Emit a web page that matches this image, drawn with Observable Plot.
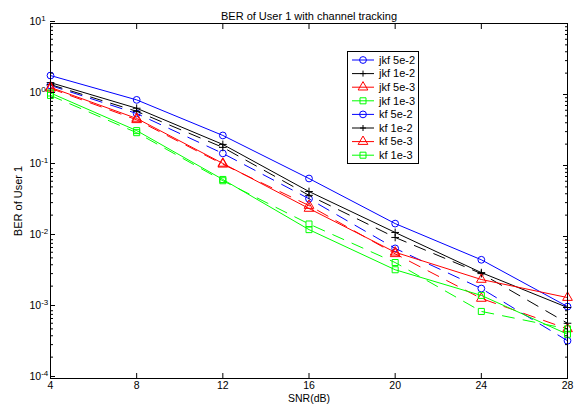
<!DOCTYPE html>
<html><head><meta charset="utf-8">
<script src="https://cdn.jsdelivr.net/npm/d3@7"></script>
<script src="https://cdn.jsdelivr.net/npm/@observablehq/plot@0.6"></script>
<style>body{margin:0;background:#fff;} svg{display:block}</style>
</head><body><div id="chart"></div>
<script>
const titleText = "BER of User 1 with channel tracking";
const xLabel = "SNR(dB)";
const yLabel = "BER of User 1";
const snr = [4, 8, 12, 16, 20, 24, 28];
const xTicks = [4, 8, 12, 16, 20, 24, 28];
const yTicks = [1e-4, 1e-3, 1e-2, 1e-1, 1, 10];
const yTickLabels = ["10^-4", "10^-3", "10^-2", "10^-1", "10^0", "10^1"];

const jkf5e2 = [1.34, 0.54, 0.148, 0.034, 0.0068, 0.00185, 0.00034];
const jkf1e2 = [1.38, 0.58, 0.18, 0.038, 0.0097, 0.0030, 0.0006];
const jkf5e3 = [1.22, 0.44, 0.104, 0.0273, 0.0057, 0.00134, 0.0005];
const jkf1e3 = [0.97, 0.29, 0.061, 0.015, 0.0043, 0.00088, 0.0005];
const kf5e2 = [1.85, 0.84, 0.265, 0.0656, 0.0152, 0.0047, 0.00103];
const kf1e2 = [1.47, 0.64, 0.198, 0.043, 0.0114, 0.0031, 0.001];
const kf5e3 = [1.26, 0.46, 0.107, 0.0248, 0.006, 0.00248, 0.00138];
const kf1e3 = [1.05, 0.31, 0.0636, 0.0125, 0.0034, 0.00148, 0.00042];

const seriesNames = ["jkf 5e-2", "jkf 1e-2", "jkf 5e-3", "jkf 1e-3", "kf 5e-2", "kf 1e-2", "kf 5e-3", "kf 1e-3"];
const seriesValues = [jkf5e2, jkf1e2, jkf5e3, jkf1e3, kf5e2, kf1e2, kf5e3, kf1e3];
const seriesColors = ["#0000ff", "#000000", "#ff0000", "#00ff00", "#0000ff", "#000000", "#ff0000", "#00ff00"];
const seriesSymbols = ["circle", "plus", "triangle", "square", "circle", "plus", "triangle", "square"];
const seriesDashed = [true, true, true, true, false, false, false, false];

const minorTicks = [];
for (let e = -4; e < 1; e++) for (let m = 2; m <= 9; m++) minorTicks.push(m * Math.pow(10, e));

const symR = s => s === "plus" ? 2.6 : s === "triangle" ? 3.6 : 3.4;

const marks = [];
seriesNames.forEach((name, k) => {
  const rows = snr.map((x, i) => ({x, y: seriesValues[k][i]}));
  marks.push(Plot.line(rows, {x: "x", y: "y", stroke: seriesColors[k], strokeWidth: 1,
    strokeDasharray: seriesDashed[k] ? "12,9" : null}));
  marks.push(Plot.dot(rows, {x: "x", y: "y", stroke: seriesColors[k], fill: "none", strokeWidth: 1,
    symbol: seriesSymbols[k], r: symR(seriesSymbols[k])}));
});

const font = "'Liberation Sans', Arial, sans-serif";
const chart = Plot.plot({
  width: 581, height: 410,
  marginLeft: 50, marginRight: 14, marginTop: 23, marginBottom: 32,
  style: {fontFamily: font, fontSize: "11px", background: "white", color: "black"},
  x: {domain: [4, 28]},
  y: {type: "log", domain: [1e-4, 10]},
  marks: [
    ...marks,
    Plot.axisX({anchor: "bottom", ticks: xTicks, tickSize: -5, tickPadding: 8, tickFormat: d => String(d), label: null, fontSize: 10.5}),
    Plot.axisX({anchor: "top", ticks: xTicks, tickSize: -5, tickFormat: () => "", label: null}),
    Plot.axisY({anchor: "left", ticks: yTicks, tickSize: -5, tickPadding: 26, textAnchor: "start",
      tickFormat: (d) => yTickLabels[yTicks.indexOf(d)], label: null, fontSize: 10.5, dy: -2}),
    Plot.axisY({anchor: "right", ticks: yTicks, tickSize: -5, tickFormat: () => "", label: null}),
    Plot.axisY({anchor: "left", ticks: minorTicks, tickSize: -3, tickFormat: () => "", label: null}),
    Plot.axisY({anchor: "right", ticks: minorTicks, tickSize: -3, tickFormat: () => "", label: null}),
    Plot.frame({stroke: "black", strokeWidth: 1}),
    Plot.text([titleText], {frameAnchor: "top", dy: -11, fontSize: 11, fill: "black"}),
    Plot.text([xLabel], {frameAnchor: "bottom", dy: 23, fontSize: 10.5, fill: "black"}),
    Plot.text([yLabel], {frameAnchor: "left", dx: -32, rotate: -90, textAnchor: "middle", fontSize: 11, fill: "black"})
  ]
});
document.getElementById("chart").appendChild(chart);

// superscript exponents on y tick labels
d3.select(chart).selectAll('g[aria-label="y-axis tick label"] text').each(function () {
  const t = this.textContent;
  const parts = t.split("^");
  if (parts.length === 2) {
    const s = d3.select(this);
    s.text(null);
    s.append("tspan").text(parts[0]);
    s.append("tspan").attr("dy", "-0.5em").attr("font-size", "8px").text(parts[1]);
  }
});

// legend box
const svg = d3.select(chart);
const lg = svg.append("g").attr("font-family", font).attr("font-size", 11).attr("text-anchor", "start");
lg.append("rect").attr("x", 347.5).attr("y", 51.5).attr("width", 71).attr("height", 112)
  .attr("fill", "white").attr("stroke", "black").attr("stroke-width", 1);
const symMap = {circle: d3.symbolCircle, triangle: d3.symbolTriangle, square: d3.symbolSquare};
seriesNames.forEach((name, k) => {
  const y = 60 + k * 13.6;
  lg.append("line").attr("x1", 352).attr("x2", 374).attr("y1", y).attr("y2", y)
    .attr("stroke", seriesColors[k]).attr("stroke-width", 1);
  const s = seriesSymbols[k];
  if (s === "plus") {
    lg.append("path").attr("d", `M363,${y - 3}v6M360,${y}h6`)
      .attr("fill", "none").attr("stroke", seriesColors[k]);
  } else {
    const r = symR(s);
    lg.append("path").attr("d", d3.symbol(symMap[s], r * r * Math.PI)())
      .attr("transform", `translate(363,${y})`).attr("fill", "none").attr("stroke", seriesColors[k]);
  }
  lg.append("text").attr("x", 379).attr("y", y).attr("dy", "0.35em").attr("fill", "black")
    .attr("text-anchor", "start").text(name);
});
</script>
</body></html>
